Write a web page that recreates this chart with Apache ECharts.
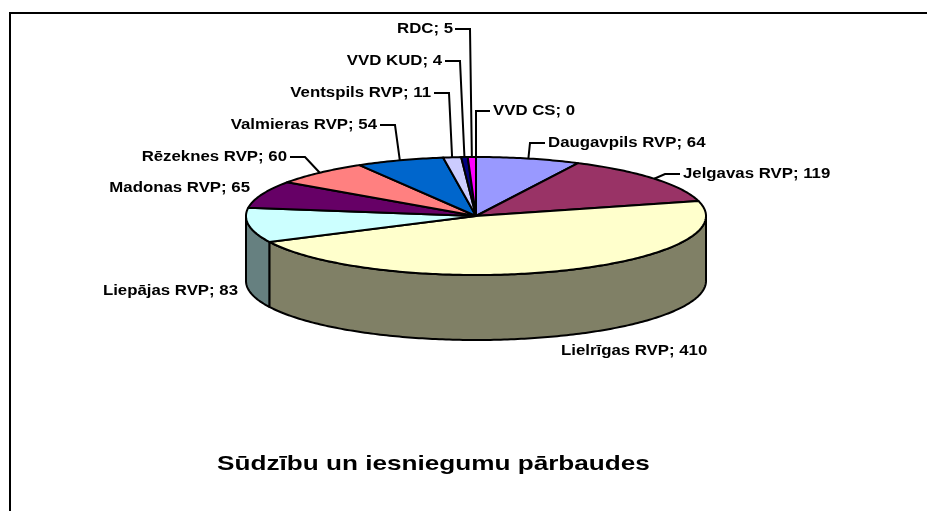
<!DOCTYPE html>
<html>
<head>
<meta charset="utf-8">
<style>
  html, body { margin: 0; padding: 0; background: #fff; }
  #chart { width: 927px; height: 511px; }
</style>
<script src="https://cdn.jsdelivr.net/npm/echarts@6/dist/echarts.min.js"></script>
</head>
<body>
<div id="chart"></div>
<script>
const categories = ["Daugavpils RVP", "Jelgavas RVP", "Lielrīgas RVP", "Liepājas RVP", "Madonas RVP", "Rēzeknes RVP", "Valmieras RVP", "Ventspils RVP", "VVD KUD", "RDC", "VVD CS"];
const values = [64, 119, 410, 83, 65, 60, 54, 11, 4, 5, 0];
const chartTitle = "Sūdzību un iesniegumu pārbaudes";

const topColors = ["#9999ff", "#993366", "#ffffcc", "#ccffff", "#660066", "#ff8080", "#0066cc", "#ccccff", "#000080", "#ff00ff", "#ffff00"];
const sideColors = ["#666699", "#662244", "#808066", "#668080", "#330033", "#804040", "#003366", "#666680", "#000040", "#800080", "#808000"];

// pie ellipse
const cx = 476, cy = 216, rx = 230, ry = 59, depth = 65;

// label position: [x, y, align], leader: bend points from label to the slice
const labelLayout = [
  { x: 548, y: 143, align: "left", line: [[545, 143], [530, 143]] },
  { x: 683, y: 174, align: "left", line: [[680, 174], [665, 174]] },
  { x: 561, y: 351, align: "left" },
  { x: 238, y: 291, align: "right" },
  { x: 250, y: 188, align: "right" },
  { x: 287, y: 157, align: "right", line: [[290, 157], [305, 157]] },
  { x: 377, y: 125, align: "right", line: [[380, 125], [395, 125]] },
  { x: 431, y: 93, align: "right", line: [[434, 93], [449, 93]] },
  { x: 442, y: 61, align: "right", line: [[445, 61], [460, 61]] },
  { x: 453, y: 29, align: "right", line: [[455, 29], [470, 29]] },
  { x: 493, y: 111, align: "left", line: [[490, 111], [476, 111]] },
];

const total = values.reduce((a, b) => a + b, 0);

function rim(a, dy) {
  return [cx + rx * Math.sin(a), cy + dy - ry * Math.cos(a)];
}

// points along the rim between two angles (0 = up, clockwise)
function arc(a0, a1, dy) {
  const n = Math.max(1, Math.ceil(Math.abs(a1 - a0) / 0.015));
  const pts = [];
  for (let i = 0; i <= n; i++) pts.push(rim(a0 + ((a1 - a0) * i) / n, dy));
  return pts;
}

const outline = { stroke: "#000", lineWidth: 2, lineJoin: "round" };

// wall of the slice, only the part facing the viewer (pi/2 .. 3pi/2)
function wall(a0, a1, i) {
  const from = Math.max(a0, Math.PI / 2);
  const to = Math.min(a1, (3 * Math.PI) / 2);
  if (to <= from) return null;
  const pts = arc(from, to, 0).concat(arc(to, from, depth));
  return { type: "polygon", shape: { points: pts }, style: { fill: sideColors[i], ...outline } };
}

function renderSlice(params, api) {
  const i = params.dataIndex;
  const before = values.slice(0, i).reduce((a, b) => a + b, 0);
  const a0 = (before / total) * 2 * Math.PI;
  const a1 = ((before + api.value(1)) / total) * 2 * Math.PI;
  const mid = (a0 + a1) / 2;
  const children = [];

  const side = wall(a0, a1, i);
  if (side) children.push(side);
  if (a1 > a0) {
    children.push({
      type: "polygon",
      shape: { points: [[cx, cy]].concat(arc(a0, a1, 0)) },
      style: { fill: topColors[i], ...outline },
    });
  }

  const lab = labelLayout[i];
  if (lab.line) {
    children.push({
      type: "polyline",
      shape: { points: lab.line.concat([rim(mid, 0)]) },
      style: { fill: null, stroke: "#000", lineWidth: 2 },
    });
  }
  // the original text runs wider than Liberation Sans, so stretch it
  children.push({
    type: "text",
    x: lab.x,
    y: lab.y,
    scaleX: 1.2,
    style: {
      text: categories[i] + "; " + api.value(1),
      x: 0,
      y: 0,
      align: lab.align,
      verticalAlign: "middle",
      font: "bold 14px 'Liberation Sans', Arial, sans-serif",
      fill: "#000",
    },
  });
  return { type: "group", children };
}

const chart = echarts.init(document.getElementById("chart"), null, { renderer: "canvas" });
chart.setOption({
  animation: false,
  backgroundColor: "#fff",
  graphic: [
    {
      type: "rect",
      shape: { x: 10, y: 13, width: 940, height: 520 },
      style: { fill: null, stroke: "#000", lineWidth: 2 },
      silent: true,
    },
    {
      type: "text",
      x: 217,
      y: 464,
      scaleX: 1.245,
      style: {
        text: chartTitle,
        x: 0,
        y: 0,
        align: "left",
        verticalAlign: "middle",
        font: "bold 21px 'Liberation Sans', Arial, sans-serif",
        fill: "#000",
      },
      silent: true,
    },
  ],
  series: [
    {
      type: "custom",
      coordinateSystem: "none",
      renderItem: renderSlice,
      data: categories.map((name, i) => ({ name, value: [i, values[i]] })),
      silent: true,
    },
  ],
});
</script>
</body>
</html>
